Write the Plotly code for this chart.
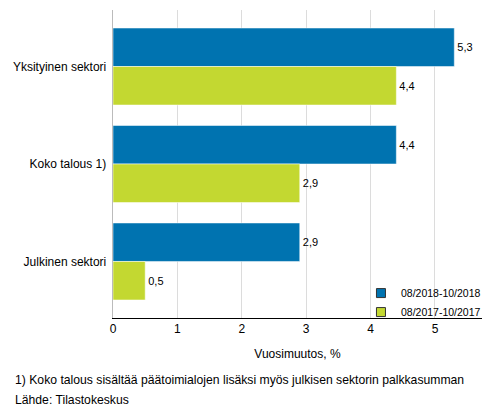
import plotly.graph_objects as go

categories = ["Yksityinen sektori", "Koko talous 1)", "Julkinen sektori"]
series_names = ["08/2018-10/2018", "08/2017-10/2017"]
values_2018 = [5.3, 4.4, 2.9]
values_2017 = [4.4, 2.9, 0.5]
x_ticks = [0, 1, 2, 3, 4, 5]
footnote = "1) Koko talous sisältää päätoimialojen lisäksi myös julkisen sektorin palkkasumman"
source = "Lähde: Tilastokeskus"

colors = ["#0073b0", "#c3d831"]

fig = go.Figure()
for name, vals, col in zip(series_names, [values_2018, values_2017], colors):
    fig.add_trace(go.Bar(
        y=categories, x=vals, name=name, orientation="h", showlegend=False,
        marker=dict(color=col, line=dict(color="rgba(255,255,255,0.5)", width=1)),
        texttemplate="%{x:.1f}", textposition="outside",
        textfont=dict(size=11, color="#000000"), cliponaxis=False,
    ))
    # small square legend markers like the original
    fig.add_trace(go.Scatter(
        x=[None], y=[None], mode="markers", name=name,
        marker=dict(symbol="square", size=9, color=col,
                    line=dict(color="#333333", width=1)),
    ))

# page body has an 8px margin, so the figure is sized to the visible area
fig.update_layout(
    width=485, height=408,
    margin=dict(l=105, r=11, t=2, b=98),
    barmode="group", bargap=0.21, bargroupgap=0,
    separators=", ",
    plot_bgcolor="white", paper_bgcolor="white",
    font=dict(family="Liberation Sans, Arial, sans-serif", size=11, color="#000000"),
    legend=dict(x=0.672, y=0.128, xanchor="left", yanchor="top",
                bgcolor="rgba(255,255,255,0)", font=dict(size=10.5),
                tracegroupgap=0),
    showlegend=True,
)
fig.update_xaxes(
    range=[0, 5.73], tickvals=x_ticks, showgrid=True, gridcolor="#dcdcdc",
    showline=True, linecolor="#000000", linewidth=1, zeroline=False,
    ticks="", tickfont=dict(size=12), automargin=False,
    title=dict(text="Vuosimuutos, %", font=dict(size=12), standoff=14),
)
fig.update_yaxes(
    range=[2.58, -0.58], showline=True, linecolor="#bbbbbb", linewidth=1,
    ticks="", tickfont=dict(size=12), ticksuffix=" ", showgrid=False,
    automargin=False,
)
fig.add_annotation(text=footnote, xref="paper", yref="paper", x=-0.272, y=-0.201,
                   xanchor="left", yanchor="middle", showarrow=False,
                   font=dict(size=12.2))
fig.add_annotation(text=source, xref="paper", yref="paper", x=-0.272, y=-0.266,
                   xanchor="left", yanchor="middle", showarrow=False,
                   font=dict(size=12.2))

fig.write_html("out.html")
